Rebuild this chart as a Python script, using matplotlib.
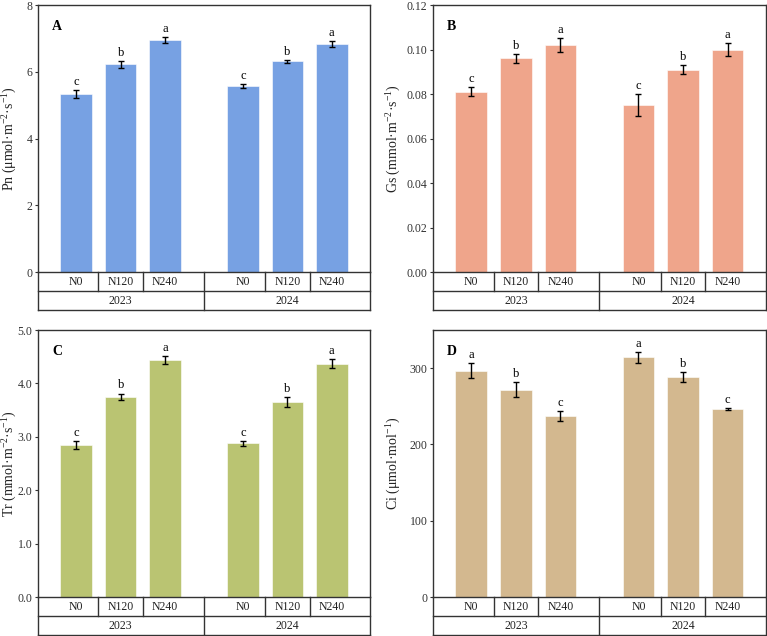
import matplotlib
matplotlib.use('Agg')
import matplotlib.pyplot as plt
import matplotlib.transforms as mtransforms
import numpy as np

plt.rcParams['font.family'] = ['Liberation Serif', 'DejaVu Serif']
plt.rcParams['mathtext.fontset'] = 'custom'
plt.rcParams['mathtext.rm'] = 'Liberation Serif'
plt.rcParams['mathtext.it'] = 'Liberation Serif:italic'
plt.rcParams['mathtext.bf'] = 'Liberation Serif:bold'

# ---------------------------------------------------------------------------------
# data
treatments = ['N0', 'N120', 'N240', 'N0', 'N120', 'N240']
years = ['2023', '2024']

pn = [5.32, 6.22, 6.94, 5.57, 6.31, 6.83]
pn_err = [0.12, 0.10, 0.09, 0.07, 0.05, 0.09]
pn_sig = ['c', 'b', 'a', 'c', 'b', 'a']

gs = [0.081, 0.096, 0.102, 0.075, 0.091, 0.100]
gs_err = [0.002, 0.002, 0.003, 0.005, 0.002, 0.003]
gs_sig = ['c', 'b', 'a', 'c', 'b', 'a']

tr = [2.85, 3.75, 4.44, 2.88, 3.65, 4.37]
tr_err = [0.075, 0.06, 0.08, 0.045, 0.10, 0.09]
tr_sig = ['c', 'b', 'a', 'c', 'b', 'a']

ci = [296.5, 272.0, 237.0, 314.0, 288.5, 246.5]
ci_err = [10.0, 10.0, 6.5, 7.0, 6.0, 1.0]
ci_sig = ['a', 'b', 'c', 'a', 'b', 'c']

# bar positions: two groups of three, with a wider gap between years
xpos = np.array([0, 1, 2, 3.75, 4.75, 5.75])
XLIM = (-0.86, 6.61)
ROW = 0.0712   # height of one table row in axes fraction
EDGE = '#333333'


# ---------------------------------------------------------------------------------
def draw_table(ax):
    """ the two-row category table under the x axis """
    tr_ = mtransforms.blended_transform_factory(ax.transData, ax.transAxes)
    ta = ax.transAxes
    kw = dict(color=EDGE, lw=1.0, clip_on=False)
    ax.plot([0, 1], [-ROW, -ROW], transform=ta, **kw)
    ax.plot([0, 1], [-2 * ROW, -2 * ROW], transform=ta, **kw)
    ax.plot([0, 0], [0, -2 * ROW], transform=ta, **kw)
    ax.plot([1, 1], [0, -2 * ROW], transform=ta, **kw)
    mids = (xpos[:-1] + xpos[1:]) / 2
    for i, m in enumerate(mids):
        y1 = -2 * ROW if i == 2 else -ROW
        ax.plot([m, m], [0, y1], transform=tr_, **kw)
    for x, t in zip(xpos, treatments):
        ax.text(x, -ROW / 2, t, transform=tr_, ha='center', va='center',
                fontsize=8.5, color='#222222')
    for x, t in zip([xpos[1], xpos[4]], years):
        ax.text(x, -1.5 * ROW, t, transform=tr_, ha='center', va='center',
                fontsize=8.5, color='#222222')


# ---------------------------------------------------------------------------------
def draw_panel(ax, vals, errs, sigs, color, ylim, yticks, fmt, ylabel, letter,
               label_x):
    ax.bar(xpos, vals, width=0.71, color=color, edgecolor='white', lw=0.4,
           zorder=2)
    ax.errorbar(xpos, vals, yerr=errs, fmt='none', ecolor='black',
                elinewidth=1.0, capsize=2.5, capthick=1.0, zorder=3)
    off = (ylim[1] - ylim[0]) * 0.008
    for x, v, e, s in zip(xpos, vals, errs, sigs):
        ax.text(x, v + e + off, s, ha='center', va='bottom', fontsize=9)

    ax.set_xlim(XLIM)
    ax.set_ylim(ylim)
    ax.set_yticks(yticks)
    ax.set_yticklabels([fmt.format(t) for t in yticks])
    ax.set_xticks([])
    ax.tick_params(axis='y', direction='out', length=2, width=0.8,
                   labelsize=8.5, labelcolor='#333333', color=EDGE, pad=2)
    for sp in ax.spines.values():
        sp.set_color(EDGE)
        sp.set_linewidth(1.0)
    ax.set_ylabel(ylabel, fontsize=10, color='#222222')
    ax.yaxis.set_label_coords(label_x, 0.5)
    ax.text(0.042, 0.92, letter, transform=ax.transAxes, fontsize=10,
            fontweight='bold', ha='left', va='center')
    draw_table(ax)


# ---------------------------------------------------------------------------------
fig = plt.figure(figsize=(7.67, 6.36), dpi=100)

axA = fig.add_axes([0.0495, 0.5723, 0.4329, 0.4198])
axB = fig.add_axes([0.5645, 0.5723, 0.4340, 0.4198])
axC = fig.add_axes([0.0495, 0.0613, 0.4329, 0.4198])
axD = fig.add_axes([0.5645, 0.0613, 0.4340, 0.4198])

draw_panel(axA, pn, pn_err, pn_sig, '#77A1E3', (0, 8), [0, 2, 4, 6, 8], '{:.0f}',
           'Pn (μmol·m$^{-2}$·s$^{-1}$)', 'A', -0.057)
draw_panel(axB, gs, gs_err, gs_sig, '#EFA58B', (0, 0.12),
           [0, 0.02, 0.04, 0.06, 0.08, 0.10, 0.12], '{:.2f}',
           'Gs (mmol·m$^{-2}$·s$^{-1}$)', 'B', -0.09)
draw_panel(axC, tr, tr_err, tr_sig, '#BAC472', (0, 5),
           [0, 1, 2, 3, 4, 5], '{:.1f}',
           'Tr (mmol·m$^{-2}$·s$^{-1}$)', 'C', -0.057)
draw_panel(axD, ci, ci_err, ci_sig, '#D3B88F', (0, 350),
           [0, 100, 200, 300], '{:.0f}',
           'Ci (μmol·mol$^{-1}$)', 'D', -0.09)

fig.savefig('out.png', dpi=100)
